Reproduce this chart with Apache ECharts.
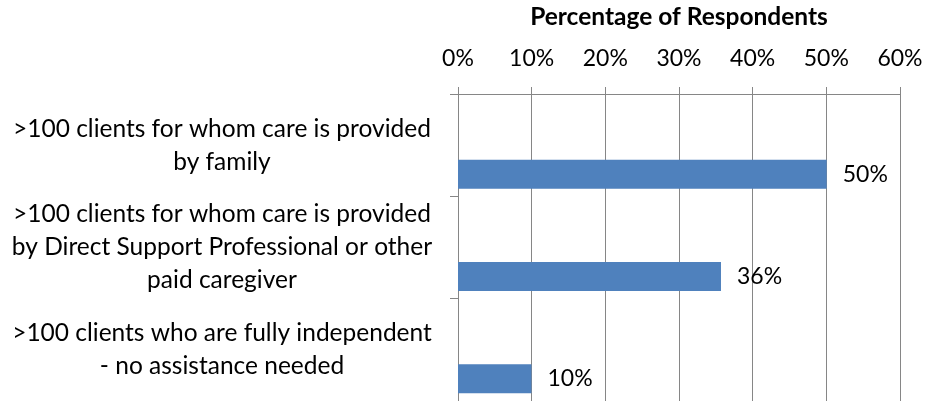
<!DOCTYPE html>
<html>
<head>
<meta charset="utf-8">
<script src="https://cdn.jsdelivr.net/npm/echarts@6/dist/echarts.min.js"></script>
<style>
html,body{margin:0;padding:0;background:#fff;}
#chart{width:927px;height:401px;}
</style>
</head>
<body>
<div id="chart"></div>
<script>
const categories = [
  ">100 clients for whom care is provided\nby family",
  ">100 clients for whom care is provided\nby Direct Support Professional or other\npaid caregiver",
  ">100 clients who are fully independent\n- no assistance needed"
];
const values = [50.05, 35.7, 9.97];
const emptyValues = [null, null, null];
const axisTitle = "Percentage of Respondents";

const FONT = "Lato";
const FS_TEXT = 24.5;
const FS_NUM = 23;
const chart = echarts.init(document.getElementById('chart'), null, {renderer: 'canvas'});
const emptySeries = () => ({
  type: 'bar', data: emptyValues, barGap: '0%', barCategoryGap: '15%',
  itemStyle: {color: '#4F81BD'}, silent: true
});
chart.setOption({
  animation: false,
  textStyle: {fontFamily: FONT},
  grid: {left: 458, right: 27, top: 93, height: 308, containLabel: false},
  xAxis: {
    type: 'value', position: 'top', min: 0, max: 60, interval: 10,
    name: axisTitle, nameLocation: 'middle', nameGap: 64,
    nameTextStyle: {fontFamily: FONT, fontWeight: 'bold', fontSize: FS_TEXT, color: '#000'},
    axisLine: {show: true, lineStyle: {color: '#868686', width: 1}},
    axisTick: {show: true, length: 7, lineStyle: {color: '#868686'}},
    axisLabel: {formatter: '{value}%', fontFamily: FONT, fontSize: FS_NUM, color: '#000', margin: 24},
    splitLine: {show: true, lineStyle: {color: '#868686', width: 1}}
  },
  yAxis: {
    type: 'category', inverse: true, data: categories,
    axisLine: {show: true, lineStyle: {color: '#868686', width: 1}},
    axisTick: {show: true, length: 8, lineStyle: {color: '#868686'}},
    axisLabel: {align: 'center', margin: 236, fontFamily: FONT, fontSize: FS_TEXT, color: '#000', lineHeight: 33}
  },
  series: [
    emptySeries(),
    emptySeries(),
    {
      type: 'bar', data: values, barGap: '0%', barCategoryGap: '15%',
      itemStyle: {color: '#4F81BD'},
      label: {
        show: true, position: 'right', distance: 16,
        formatter: p => Math.round(p.value) + '%',
        fontFamily: FONT, fontSize: FS_NUM, color: '#000'
      }
    }
  ]
});
</script>
</body>
</html>
